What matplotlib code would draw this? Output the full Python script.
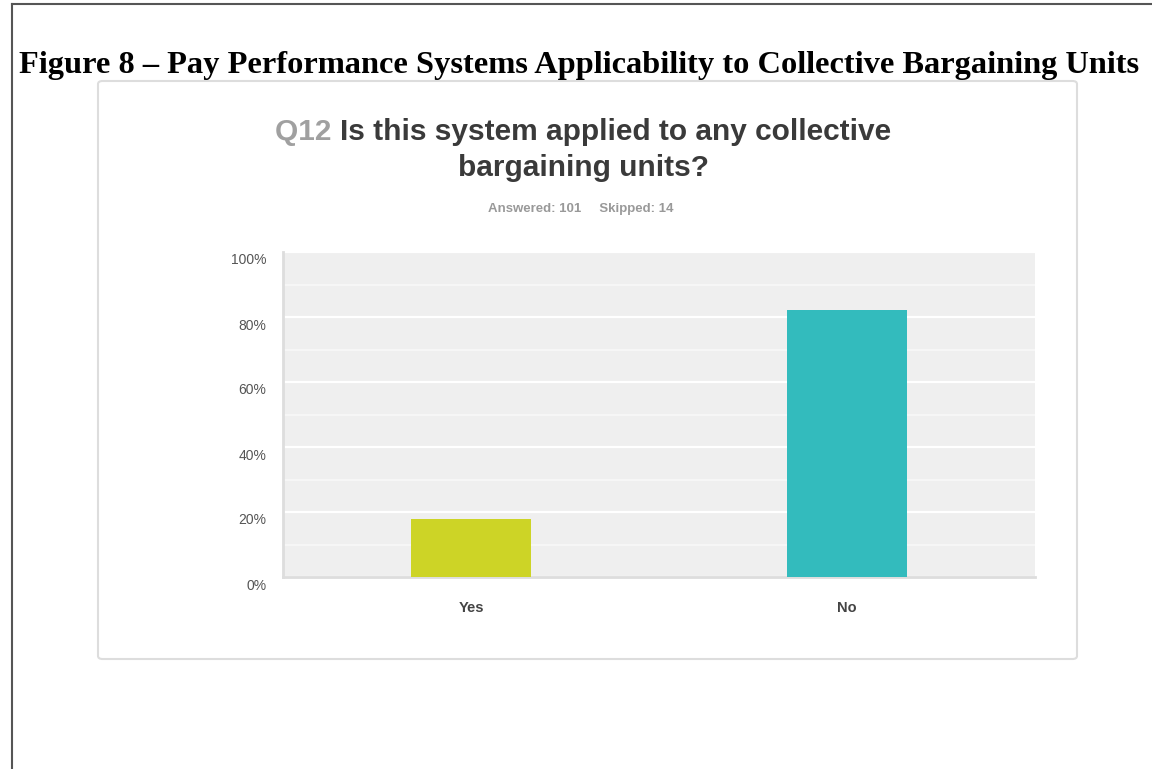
import matplotlib.pyplot as plt
import matplotlib.transforms as mtransforms
from matplotlib.patches import FancyBboxPatch
from matplotlib.lines import Line2D
import numpy as np

categories = ["Yes", "No"]
percent = [17.82, 82.18]
bar_colors = ["#cdd426", "#33bbbd"]
ytick_vals = [0, 20, 40, 60, 80, 100]
ytick_labels = ["0%", "20%", "40%", "60%", "80%", "100%"]

W, H = 1152, 769
fig = plt.figure(figsize=(W / 100, H / 100), dpi=100)

# page frame (left + top rule)
fig.add_artist(Line2D([11.5 / W, 11.5 / W], [0, 1 - 4 / H], color="#555555", lw=1.5, zorder=-5))
fig.add_artist(Line2D([11.5 / W, 1], [1 - 4 / H, 1 - 4 / H], color="#555555", lw=1.5, zorder=-5))

fig.text(579 / W, 1 - 65 / H,
         "Figure 8 \u2013 Pay Performance Systems Applicability to Collective Bargaining Units",
         ha="center", va="center", family="Liberation Serif", weight="bold",
         fontsize=23.3, color="black")

# survey card
card = FancyBboxPatch((98 / W, 1 - 659 / H), 979 / W, 578 / H,
                      boxstyle="round,pad=0,rounding_size=0.004",
                      transform=fig.transFigure, facecolor="white",
                      edgecolor="#dddddd", lw=1.5, zorder=-10)
fig.add_artist(card)

# question title: grey "Q12" followed by dark text, line centred
fig.canvas.draw()
r = fig.canvas.get_renderer()
q = fig.text(0, 1 - 132 / H, "Q12 ", ha="left", va="center",
             family="Liberation Sans", weight="bold", fontsize=21.5, color="#a0a0a0")
t = fig.text(0, 1 - 132 / H, "Is this system applied to any collective",
             ha="left", va="center", family="Liberation Sans", weight="bold",
             fontsize=21.5, color="#3a3a3a")
wq = q.get_window_extent(r).width
wt = t.get_window_extent(r).width
x0 = 583 - (wq + wt) / 2
q.set_x(x0 / W)
t.set_x((x0 + wq) / W)
fig.text(583 / W, 1 - 168 / H, "bargaining units?", ha="center", va="center",
         family="Liberation Sans", weight="bold", fontsize=21.5, color="#3a3a3a")
fig.text(581 / W, 1 - 209 / H, "Answered: 101     Skipped: 14", ha="center",
         va="center", family="Liberation Sans", weight="bold", fontsize=9.5,
         color="#999999")

ax = fig.add_axes([283 / W, 1 - 577 / H, 752 / W, 325 / H])
ax.set_facecolor("#efefef")
x = np.arange(len(categories))
ax.bar(x, percent, width=0.32, color=bar_colors, zorder=3)
ax.set_xlim(-0.5, 1.5)
ax.set_ylim(0, 100)
ax.set_yticks(ytick_vals)
ax.set_yticklabels(ytick_labels, family="Liberation Sans", fontsize=10, color="#555555")
ax.set_yticks(np.arange(10, 100, 20), minor=True)
ax.grid(axis="y", which="major", color="white", lw=1.6, zorder=1)
ax.grid(axis="y", which="minor", color="#f8f8f8", lw=1.2, zorder=1)
ax.set_xticks(x)
ax.set_xticklabels(categories, family="Liberation Sans", weight="bold",
                   fontsize=10.5, color="#444444")
ax.tick_params(axis="both", which="both", length=0)
ax.tick_params(axis="x", pad=17)
ax.tick_params(axis="y", pad=12)
shift = mtransforms.ScaledTranslation(0, -7 / 100, fig.dpi_scale_trans)
for lab in ax.get_yticklabels():
    lab.set_transform(lab.get_transform() + shift)
for s in ["top", "right"]:
    ax.spines[s].set_visible(False)
ax.spines["left"].set_color("#dddddd")
ax.spines["bottom"].set_color("#dddddd")
ax.spines["left"].set_linewidth(2)
ax.spines["bottom"].set_linewidth(2)

fig.savefig("out.png", dpi=100)
